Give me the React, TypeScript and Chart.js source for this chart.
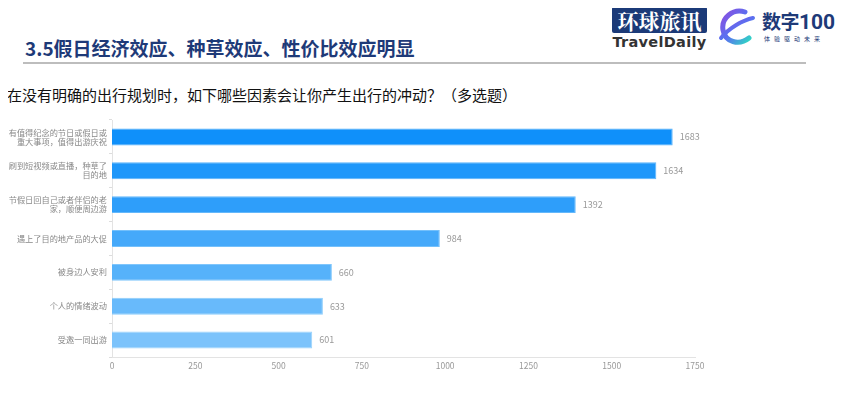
import React, { useEffect, useRef } from "react";
import { Chart, registerables } from "chart.js";

Chart.register(...registerables);

const categories: string[][] = [
  ["有值得纪念的节日或假日或", "重大事项，值得出游庆祝"],
  ["刷到短视频或直播，种草了", "目的地"],
  ["节假日回自己或者伴侣的老", "家，顺便周边游"],
  ["遇上了目的地产品的大促"],
  ["被身边人安利"],
  ["个人的情绪波动"],
  ["受邀一同出游"],
];
const values: number[] = [1683, 1634, 1392, 984, 660, 633, 601];
const barColors: string[] = ["#0F90FA", "#1E97FA", "#2E9EFA", "#45A9FA", "#56B2FA", "#68BAFB", "#7CC3FB"];
const borderColors: string[] = ["#4FAEFB", "#5AB3FB", "#64B8FB", "#74C0FB", "#80C6FC", "#8DCDFC", "#9BD3FC"];
const xTicks = { min: 0, max: 1750, step: 250 };

const FONT = "'Noto Sans CJK SC', 'Noto Sans', sans-serif";

const valueLabels = {
  id: "valueLabels",
  afterDatasetsDraw(chart: any) {
    const ctx = chart.ctx;
    const meta = chart.getDatasetMeta(0);
    ctx.save();
    ctx.font = `9px ${FONT}`;
    ctx.fillStyle = "#999999";
    ctx.textAlign = "left";
    ctx.textBaseline = "middle";
    meta.data.forEach((el: any, i: number) => {
      ctx.fillText(String(chart.data.datasets[0].data[i]), el.x + 7, el.y);
    });
    ctx.restore();
  },
};

function BarChart() {
  const ref = useRef<HTMLCanvasElement | null>(null);
  useEffect(() => {
    if (!ref.current) return;
    const chart = new Chart(ref.current, {
      type: "bar",
      data: {
        labels: categories,
        datasets: [
          {
            data: values,
            backgroundColor: barColors,
            borderColor: borderColors,
            borderWidth: 1,
            barPercentage: 0.5,
            categoryPercentage: 1,
          },
        ],
      },
      options: {
        indexAxis: "y",
        animation: false,
        responsive: false,
        maintainAspectRatio: false,
        layout: { padding: { top: 8, right: 25, left: 0, bottom: 0 } },
        plugins: { legend: { display: false }, tooltip: { enabled: false } },
        scales: {
          x: {
            min: xTicks.min,
            max: xTicks.max,
            ticks: {
              stepSize: xTicks.step,
              color: "#999999",
              font: { size: 8.5, family: FONT },
              padding: 4,
              maxRotation: 0,
              callback: (v: any) => String(v),
            },
            grid: { display: false, drawTicks: false, tickLength: 0 },
            border: { display: true, color: "#E3E3E3", width: 1 },
            afterFit(scale: any) {
              scale.height = 23;
            },
          },
          y: {
            ticks: {
              color: "#888888",
              font: { size: 8.2, family: FONT, lineHeight: 1.1 },
              padding: 2,
              autoSkip: false,
            },
            grid: { display: true, drawOnChartArea: false, drawTicks: true, tickLength: 3, color: "#DDDDDD" },
            border: { display: true, color: "#E3E3E3", width: 1 },
            afterFit(scale: any) {
              scale.width = 112;
            },
          },
        },
      },
      plugins: [valueLabels],
    });
    return () => chart.destroy();
  }, []);
  return <canvas ref={ref} width={720} height={268} style={{ display: "block" }} />;
}

export default function App() {
  return (
    <div style={{ position: "relative", width: 844, height: 394, margin: -8, background: "#fff", overflow: "hidden", fontFamily: FONT }}>
      <div style={{ position: "absolute", left: 25, top: 35, fontSize: 19, fontWeight: 700, color: "#1E3A78", whiteSpace: "nowrap", lineHeight: "26px" }}>
        3.5假日经济效应、种草效应、性价比效应明显
      </div>
      <div style={{ position: "absolute", left: 23, top: 62, width: 783, height: 2, background: "#BDBDBD" }} />
      {/* logos */}
      <div style={{ position: "absolute", left: 612, top: 7, width: 95, height: 26, background: "#1B3A78", borderRadius: 2, color: "#fff", fontSize: 21, fontWeight: 700, lineHeight: "26px", textAlign: "center", fontFamily: "'Noto Serif CJK SC', 'Noto Sans CJK SC', serif", letterSpacing: 0 }}>
        环球旅讯
      </div>
      <div style={{ position: "absolute", left: 612, top: 33, width: 95, fontSize: 14.5, fontWeight: 700, color: "#333", lineHeight: "18px", textAlign: "center", fontFamily: "'DejaVu Sans', sans-serif", letterSpacing: 0.3 }}>
        TravelDaily
      </div>
      <svg style={{ position: "absolute", left: 715, top: 6 }} width={42} height={44} viewBox="0 0 42 44">
        <defs>
          <linearGradient id="lg1" x1="0" y1="0" x2="1" y2="1">
            <stop offset="0" stopColor="#8A4FE0" />
            <stop offset="0.5" stopColor="#5B6FF0" />
            <stop offset="1" stopColor="#2FD6C4" />
          </linearGradient>
        </defs>
        <path d="M30 6 C18 2 6 12 8 24 C10 36 24 40 34 32" fill="none" stroke="url(#lg1)" strokeWidth={5} strokeLinecap="round" />
        <path d="M6 32 C14 22 28 14 38 12" fill="none" stroke="url(#lg1)" strokeWidth={4} strokeLinecap="round" />
      </svg>
      <div style={{ position: "absolute", left: 762, top: 9, fontSize: 19, fontWeight: 700, color: "#1E3A78", lineHeight: "24px", whiteSpace: "nowrap", letterSpacing: -0.5, fontFamily: "'Noto Sans CJK SC', 'Liberation Sans Narrow', sans-serif" }}>
        数字<span style={{ fontFamily: "'Liberation Sans Narrow', 'Roboto', sans-serif", fontSize: 21, letterSpacing: 0 }}>100</span>
      </div>
      <div style={{ position: "absolute", left: 764, top: 35, fontSize: 6, color: "#1E3A78", letterSpacing: 4, lineHeight: "8px", whiteSpace: "nowrap" }}>
        体验驱动未来
      </div>
      <div style={{ position: "absolute", left: 7, top: 84, fontSize: 15, color: "#111", lineHeight: "22px", whiteSpace: "nowrap" }}>
        在没有明确的出行规划时，如下哪些因素会让你产生出行的冲动？（多选题）
      </div>
      <div style={{ position: "absolute", left: 0, top: 112 }}>
        <BarChart />
      </div>
    </div>
  );
}
